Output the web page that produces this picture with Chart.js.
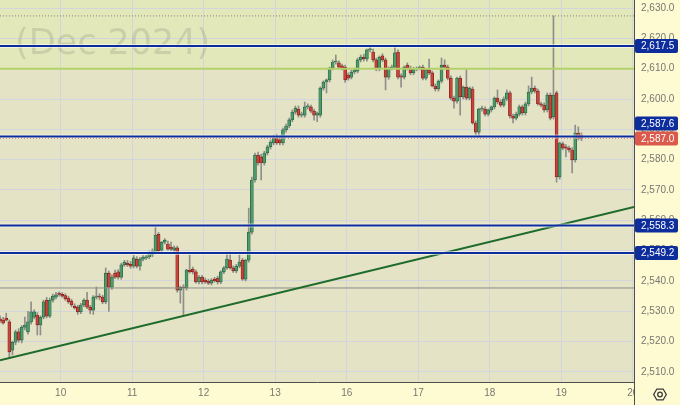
<!DOCTYPE html>
<html><head><meta charset="utf-8">
<script src="https://cdn.jsdelivr.net/npm/chart.js@4"></script>
<style>html,body{margin:0;padding:0;background:#fefad2;}canvas{display:block;}</style>
</head><body>
<canvas id="c" width="680" height="405"></canvas>
<script>
// ---- data (hourly candles) ----
const opens = [2527.5,2527.1,2527.8,2526.5,2517.2,2519.8,2523.2,2520.5,2524.8,2523.2,2526.5,2528.1,2528.8,2525.5,2528.1,2533.7,2528.4,2533.7,2534.7,2535.7,2535.6,2535.2,2534.4,2533.4,2531.7,2531.4,2529.8,2532.1,2533.7,2531.4,2530.4,2534.7,2535.0,2534.7,2533.1,2542.6,2538.0,2542.6,2543.0,2541.3,2545.3,2545.9,2545.6,2544.9,2547.2,2544.9,2547.2,2547.6,2547.9,2548.6,2549.5,2555.4,2550.2,2552.8,2552.2,2551.2,2550.2,2550.9,2537.0,2538.0,2537.7,2543.6,2543.9,2543.0,2539.7,2541.3,2540.3,2540.0,2539.3,2540.6,2541.0,2539.7,2543.0,2544.3,2546.9,2544.3,2543.3,2544.9,2546.9,2540.6,2546.9,2556.1,2573.3,2581.5,2580.9,2578.9,2582.2,2584.2,2585.5,2587.1,2586.5,2585.5,2589.8,2591.1,2593.1,2595.7,2596.7,2594.7,2594.7,2597.4,2597.4,2596.0,2594.7,2594.7,2603.6,2605.6,2606.3,2610.2,2612.2,2611.9,2610.9,2610.5,2607.9,2607.2,2608.9,2609.2,2612.9,2613.8,2613.2,2616.2,2615.5,2612.9,2609.9,2614.2,2612.9,2607.2,2610.2,2610.5,2615.5,2607.6,2607.2,2611.2,2610.2,2608.6,2609.9,2610.2,2610.5,2606.9,2609.6,2608.6,2604.3,2603.3,2605.9,2611.2,2610.5,2606.9,2600.3,2599.3,2606.9,2600.7,2603.9,2600.3,2603.3,2592.1,2589.1,2596.7,2596.7,2595.0,2596.4,2597.4,2600.3,2599.0,2598.0,2600.0,2602.0,2594.4,2593.7,2595.0,2597.4,2595.4,2598.4,2602.3,2603.6,2602.6,2598.4,2598.0,2596.4,2601.3,2594.1,2602.0,2574.3,2585.2,2584.2,2583.8,2583.2,2579.9,2588.8,2588.1];
const highs = [2528.5,2528.0,2529.4,2527.2,2520.2,2523.8,2524.3,2525.3,2528.1,2530.0,2533.1,2530.5,2529.6,2528.5,2533.7,2534.6,2534.4,2535.7,2536.3,2536.4,2536.2,2535.8,2535.0,2534.0,2532.5,2532.0,2532.6,2534.2,2536.3,2532.0,2535.2,2538.0,2535.8,2535.3,2544.3,2543.3,2542.0,2543.6,2543.8,2545.9,2546.8,2546.8,2546.5,2548.4,2548.0,2547.8,2548.4,2548.5,2549.9,2550.6,2557.8,2556.0,2553.0,2554.0,2553.2,2552.8,2551.6,2551.5,2538.3,2538.8,2543.9,2548.6,2544.6,2543.6,2541.8,2541.9,2541.0,2540.6,2540.8,2541.2,2541.6,2543.4,2544.8,2549.5,2549.5,2545.0,2545.5,2548.6,2547.5,2547.2,2564.0,2574.3,2582.2,2582.5,2581.8,2582.8,2584.8,2586.5,2588.1,2588.4,2587.8,2590.4,2591.7,2593.7,2596.4,2597.7,2597.7,2595.7,2599.0,2598.4,2598.0,2596.7,2595.7,2604.0,2606.0,2606.6,2610.5,2612.9,2614.5,2612.6,2611.5,2611.2,2608.6,2609.5,2610.2,2613.5,2614.5,2614.8,2616.5,2617.1,2616.5,2613.5,2614.2,2614.9,2613.5,2610.6,2611.2,2617.1,2616.2,2608.3,2610.9,2611.9,2610.9,2610.5,2610.6,2610.9,2611.2,2609.9,2613.2,2609.2,2605.0,2606.3,2613.5,2612.9,2611.2,2607.6,2601.0,2607.2,2607.6,2604.3,2609.6,2604.0,2604.0,2592.8,2597.0,2597.7,2597.4,2596.7,2597.7,2600.7,2603.0,2599.7,2600.7,2603.0,2602.6,2595.0,2595.7,2598.0,2598.0,2599.0,2604.3,2607.2,2604.3,2603.3,2599.0,2598.7,2602.0,2602.0,2627.4,2602.6,2585.8,2585.8,2585.0,2584.5,2584.0,2591.4,2590.8,2588.8];
const lows = [2526.3,2525.8,2526.8,2514.6,2515.6,2519.0,2519.8,2519.6,2523.9,2522.5,2525.8,2527.5,2522.2,2522.2,2527.5,2527.8,2527.9,2533.0,2534.1,2535.0,2534.6,2533.6,2532.6,2531.5,2530.7,2529.0,2529.2,2531.5,2530.9,2529.2,2529.0,2534.0,2533.8,2532.5,2532.5,2530.0,2537.2,2540.8,2540.6,2540.6,2544.8,2544.8,2544.2,2544.3,2544.3,2543.6,2546.6,2547.0,2547.3,2548.0,2549.0,2549.3,2549.6,2552.2,2550.2,2550.0,2549.6,2536.3,2532.7,2528.8,2537.0,2542.6,2542.3,2539.3,2539.0,2539.0,2539.2,2538.8,2538.7,2539.6,2539.0,2539.1,2542.4,2543.8,2543.9,2542.8,2542.7,2544.3,2540.2,2540.0,2546.2,2555.4,2572.6,2578.2,2573.3,2578.2,2581.5,2583.5,2584.9,2585.0,2584.9,2584.9,2589.1,2590.5,2592.5,2595.0,2594.0,2594.0,2594.0,2596.7,2595.4,2593.0,2592.5,2594.0,2602.9,2602.0,2605.6,2609.6,2611.5,2609.9,2609.6,2605.5,2606.2,2606.6,2608.3,2608.6,2612.2,2612.5,2612.5,2615.5,2612.2,2609.3,2609.3,2612.3,2603.0,2606.5,2609.6,2609.9,2606.6,2603.9,2606.6,2609.6,2608.0,2608.0,2609.3,2609.6,2606.3,2606.3,2608.0,2604.0,2602.6,2602.6,2605.3,2609.9,2606.3,2599.7,2597.0,2598.6,2594.7,2600.0,2599.7,2599.7,2591.7,2588.1,2587.4,2596.0,2594.4,2594.4,2595.7,2596.7,2598.4,2597.4,2597.4,2599.4,2593.7,2592.1,2593.1,2594.4,2594.7,2594.7,2597.7,2601.7,2602.0,2598.0,2597.4,2595.7,2595.7,2593.1,2593.4,2572.6,2573.6,2583.2,2580.9,2582.5,2575.6,2579.2,2586.5,2586.3];
const closes = [2526.8,2526.1,2527.1,2516.6,2519.8,2523.2,2520.5,2524.8,2525.5,2526.5,2529.8,2529.8,2525.5,2528.1,2533.1,2528.4,2533.7,2535.0,2535.4,2535.6,2535.0,2534.1,2533.1,2532.1,2531.1,2529.8,2532.1,2533.7,2531.4,2530.4,2534.7,2535.0,2534.7,2533.1,2542.6,2538.0,2541.3,2541.3,2541.3,2545.3,2546.2,2545.3,2544.9,2547.6,2544.9,2547.2,2547.9,2547.9,2549.2,2549.9,2555.1,2549.9,2552.8,2553.5,2550.5,2550.5,2550.9,2537.0,2538.0,2537.7,2543.6,2543.0,2543.0,2539.7,2541.3,2539.7,2539.7,2539.3,2540.3,2540.0,2539.7,2543.0,2544.3,2547.2,2544.3,2543.3,2544.9,2546.2,2540.6,2546.9,2556.1,2573.3,2581.5,2578.9,2578.9,2582.2,2584.2,2585.8,2587.1,2585.5,2585.5,2589.8,2591.1,2593.1,2595.7,2597.0,2594.7,2595.0,2597.4,2597.7,2596.0,2594.7,2595.4,2603.6,2605.6,2606.3,2610.2,2612.2,2612.5,2610.5,2610.2,2606.3,2606.9,2608.9,2609.6,2612.9,2613.8,2613.2,2616.2,2616.5,2612.9,2609.9,2613.8,2612.9,2607.2,2610.2,2610.5,2615.2,2607.2,2607.2,2610.5,2610.2,2608.6,2609.9,2610.0,2610.5,2606.9,2609.6,2608.6,2604.3,2603.3,2605.9,2611.2,2610.5,2606.9,2600.3,2599.3,2606.9,2600.7,2603.9,2600.3,2603.6,2592.1,2589.1,2596.7,2597.0,2595.0,2596.4,2597.4,2600.3,2599.0,2598.0,2600.0,2602.0,2594.4,2593.7,2595.0,2597.4,2595.4,2598.4,2602.3,2603.6,2602.6,2598.4,2598.0,2596.4,2601.3,2593.7,2601.3,2574.3,2585.5,2583.8,2583.8,2583.2,2579.9,2588.8,2587.1,2587.0];

const dayLabels = ['10','11','12','13','16','17','18','19','20'];
const dayTickSlots = [19.5,42.5,65.5,88.5,111.5,134.5,157.5,180.5,203.5];
const levelValues = [2617.5, 2587.6, 2558.3, 2549.2];
const lastPrice = 2587.0;
const greenLevel = 2610.0;
const sessionHigh = 2627.4;
const grayLevel = 2537.7;
const trendValues = [2513.9, 2564.4];
const watermarkText = '(Dec 2024)';

const X_MIN = 0, X_MAX = 203.9;
const Y_MIN = 2506.7, Y_MAX = 2632.64;

// ---- styling ----
const PANEL = '#fefad2';
const PLOT_BG = '#e4e3c5';
const PLOT_TOP_BG = '#e2e8ba';
const GRID = '#d2d6dc';
const BLUE = '#0d2d9c';
const RED_BOX = '#dc5a4b';
const FONT = 'Liberation Sans';

const hLine = (v) => [{x: X_MIN, y: v}, {x: X_MAX, y: v}];
const isUp = closes.map((c, i) => c >= opens[i]);

const datasets = [];
levelValues.forEach((v) => {
  datasets.push({type:'line', data:hLine(v), borderColor:BLUE, borderWidth:2, pointRadius:0, order:2});
  datasets.push({type:'line', data:hLine(v), borderColor:'rgba(255,255,255,0.55)', borderWidth:4, pointRadius:0, order:3});
});
datasets.push({type:'line', data:[{x:X_MIN,y:trendValues[0]},{x:X_MAX,y:trendValues[1]}], borderColor:'#1e6b2b', borderWidth:2, pointRadius:0, order:4});
datasets.push({type:'line', data:hLine(lastPrice), borderColor:'#d35a4c', borderWidth:1, borderDash:[1,2], pointRadius:0, order:5});
datasets.push({type:'line', data:hLine(greenLevel), borderColor:'#b3d06a', borderWidth:2, pointRadius:0, order:6});
datasets.push({type:'line', data:hLine(sessionHigh), borderColor:'#85857f', borderWidth:1, borderDash:[1,2], pointRadius:0, order:7});
datasets.push({type:'line', data:hLine(grayLevel), borderColor:'#8d8d88', borderWidth:1, pointRadius:0, order:8});
datasets.push({
  type:'bar', grouped:false, order:50,
  data: opens.map((o, i) => ({x:i, y:[o, closes[i]]})),
  backgroundColor: isUp.map(u => u ? '#4f9a6c' : '#c9433a'),
  borderColor: isUp.map(u => u ? '#1f643c' : '#7f1c17'),
  borderWidth: 0.7, borderSkipped:false, barThickness:3, minBarLength:1
});
datasets.push({
  type:'bar', grouped:false, order:60,
  data: lows.map((l, i) => ({x:i, y:[l, highs[i]]})),
  backgroundColor:'#8e8e8a', borderWidth:0, barThickness:1
});

const bgPlugin = {
  id:'bg',
  beforeDraw(chart) {
    const {ctx, chartArea:a, scales:{y}} = chart;
    ctx.save();
    ctx.fillStyle = PANEL; ctx.fillRect(0, 0, chart.width, chart.height);
    ctx.fillStyle = PLOT_BG; ctx.fillRect(a.left, a.top, a.right - a.left, a.bottom - a.top);
    const gy = y.getPixelForValue(greenLevel);
    ctx.fillStyle = PLOT_TOP_BG; ctx.fillRect(a.left, a.top, a.right - a.left, gy - a.top);
    ctx.restore();
  },
  beforeDatasetsDraw(chart) {
    const {ctx, chartArea:a} = chart;
    ctx.save();
    ctx.beginPath(); ctx.rect(a.left, a.top, a.right - a.left, a.bottom - a.top); ctx.clip();
    ctx.font = '35px "DejaVu Sans"';
    ctx.fillStyle = 'rgba(105,115,100,0.2)';
    ctx.textAlign = 'left'; ctx.textBaseline = 'alphabetic';
    ctx.fillText(watermarkText, 15, 54);
    ctx.restore();
  },
  afterDraw(chart) {
    const {ctx, chartArea:a, scales:{y}} = chart;
    const fmt = v => v.toLocaleString('en-US', {minimumFractionDigits:1, maximumFractionDigits:1});
    const H = 14, X = a.right + 1, W = 43;
    const box = (cy, color, text) => {
      ctx.fillStyle = color;
      ctx.beginPath();
      if (ctx.roundRect) ctx.roundRect(X, cy - H/2, W, H, 2); else ctx.rect(X, cy - H/2, W, H);
      ctx.fill();
      ctx.fillStyle = '#ffffff';
      ctx.font = '10px "' + FONT + '"';
      ctx.textAlign = 'left'; ctx.textBaseline = 'middle';
      ctx.fillText(text, a.right + 7, cy + 0.5);
    };
    ctx.save();
    const yRed = y.getPixelForValue(lastPrice);
    levelValues.forEach(v => {
      let cy = y.getPixelForValue(v);
      if (Math.abs(cy - yRed) < H + 1) cy = (cy <= yRed) ? yRed - (H + 1) : yRed + (H + 1);
      box(cy, BLUE, fmt(v));
    });
    box(yRed, RED_BOX, fmt(lastPrice));
    // bottom-right corner cell (clips the last date label) with settings icon
    ctx.fillStyle = PANEL;
    ctx.fillRect(a.right, a.bottom + 1, chart.width - a.right, chart.height - a.bottom - 1);
    ctx.strokeStyle = '#4e4e4e'; ctx.lineWidth = 1;
    ctx.beginPath(); ctx.moveTo(a.right + 0.5, a.bottom); ctx.lineTo(a.right + 0.5, chart.height); ctx.stroke();
    const cx = 660, cyi = 394.5, r = 6.3;
    ctx.strokeStyle = '#3a3a3a'; ctx.lineWidth = 1.3;
    ctx.beginPath();
    for (let k = 0; k < 6; k++) {
      const t = Math.PI / 3 * k;
      const px = cx + r * Math.cos(t), py = cyi + r * Math.sin(t);
      if (k === 0) ctx.moveTo(px, py); else ctx.lineTo(px, py);
    }
    ctx.closePath(); ctx.stroke();
    ctx.beginPath(); ctx.arc(cx, cyi, 2.3, 0, Math.PI * 2); ctx.stroke();
    ctx.restore();
  }
};

new Chart(document.getElementById('c'), {
  type:'bar',
  data:{datasets},
  options:{
    responsive:false, animation:false, devicePixelRatio:1,
    layout:{padding:0},
    plugins:{legend:{display:false}, tooltip:{enabled:false}},
    scales:{
      x:{
        type:'linear', min:X_MIN, max:X_MAX, offset:false,
        grid:{offset:false, color:GRID, drawTicks:false},
        border:{display:true, color:'#4e4e4e', width:1},
        afterBuildTicks: s => { s.ticks = dayTickSlots.map(v => ({value:v})); },
        afterFit: s => { s.height = 23; s.paddingLeft = 0; s.paddingRight = 0; s.paddingTop = 0; s.paddingBottom = 0; },
        ticks:{autoSkip:false, maxRotation:0, padding:5, color:'#777772',
          font:{family:FONT, size:10}, callback:(v, i) => dayLabels[i]}
      },
      y:{
        type:'linear', position:'right', min:Y_MIN, max:Y_MAX,
        grid:{color:GRID, drawTicks:false},
        border:{display:true, color:'#4e4e4e', width:1},
        afterFit: s => { s.width = 46; s.paddingTop = 0; s.paddingBottom = 0; s.paddingLeft = 0; s.paddingRight = 0; },
        ticks:{stepSize:10, includeBounds:false, padding:7, color:'#777772',
          font:{family:FONT, size:10},
          callback: v => v.toLocaleString('en-US', {minimumFractionDigits:1, maximumFractionDigits:1})}
      }
    }
  },
  plugins:[bgPlugin]
});
</script>
</body></html>
